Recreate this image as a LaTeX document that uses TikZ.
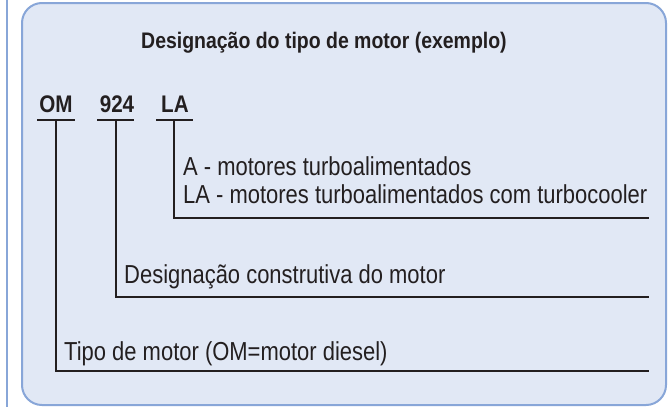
\documentclass[tikz,border=0pt]{standalone}
\usepackage{fontspec}
\newfontfamily\regf[FakeStretch=0.845]{Liberation Sans}
\newfontfamily\boldf[FakeStretch=0.86]{Liberation Sans Bold}
\newfontfamily\ttlf[FakeStretch=0.865]{Liberation Sans Bold}
\definecolor{boxfill}{HTML}{E1E8F5}
\definecolor{boxline}{HTML}{88A6D8}
\definecolor{ink}{HTML}{231F20}
\begin{document}
\begin{tikzpicture}[x=1pt,y=-1pt,
  lbl/.style={inner sep=0,anchor=base west,text=ink,font=\regf\fontsize{26}{30}\selectfont},
  code/.style={inner sep=0,anchor=base,text=ink,font=\boldf\fontsize{24}{28}\selectfont},
  ttl/.style={inner sep=0,anchor=base west,text=ink,font=\ttlf\fontsize{22.5}{26}\selectfont},
  ln/.style={draw=ink,line width=2pt},
  frame/.style={draw=boxline,line width=2pt}]
\useasboundingbox (0,0) rectangle (668,407);
\fill[white] (0,0) rectangle (668,407);
% frame
\coordinate (barT) at (7,0);
\coordinate (barB) at (7,407);
\draw[frame] (barT) -- (barB);
\draw[frame,fill=boxfill,rounded corners=20pt] (22,3) rectangle (666,405);
% title
\node[ttl] (title) at (141,48) {Designação do tipo de motor (exemplo)};
% codes
\node[code] (om) at (56,112) {OM};
\node[code] (n924) at (117,112) {924};
\node[code] (la) at (175,112) {LA};
% underline coordinates
\coordinate (omL) at (37,120);  \coordinate (omR) at (75,120);  \coordinate (omT) at (56,120);
\coordinate (nL) at (97,120);   \coordinate (nR) at (134,120);  \coordinate (nT) at (116,120);
\coordinate (laL) at (156,120); \coordinate (laR) at (193,120); \coordinate (laT) at (174,120);
\draw[ln] (omL) -- (omR);
\draw[ln] (nL) -- (nR);
\draw[ln] (laL) -- (laR);
% leader corners and ends
\coordinate (omC) at (56,371);  \coordinate (omE) at (649,371);
\coordinate (nC) at (116,297);  \coordinate (nE) at (649,297);
\coordinate (laC) at (174,218); \coordinate (laE) at (649,218);
\draw[ln] (omT) -- (omC) -- (omE);
\draw[ln] (nT) -- (nC) -- (nE);
\draw[ln] (laT) -- (laC) -- (laE);
% descriptions
\node[lbl] (dA) at (183,175) {A - motores turboalimentados};
\node[lbl] (dLA) at (183,203) {LA - motores turboalimentados com turbocooler};
\node[lbl] (dN) at (124,283) {Designação construtiva do motor};
\node[lbl] (dOM) at (64,360) {Tipo de motor (OM=motor diesel)};
\end{tikzpicture}
\end{document}
